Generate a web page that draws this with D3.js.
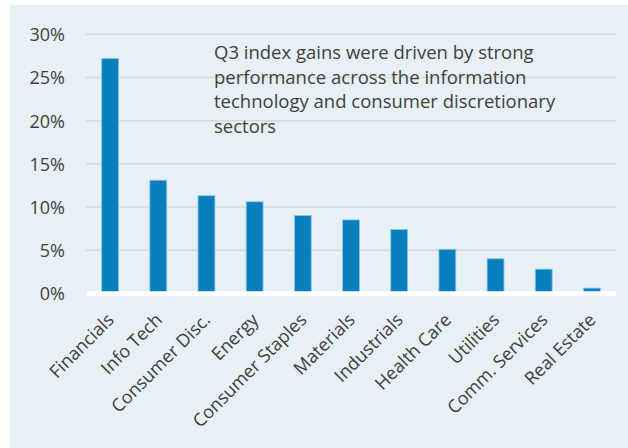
<!DOCTYPE html>
<html lang="en">
<head>
    <meta charset="UTF-8">
    <title>Q3 sector returns</title>
    <script src="https://d3js.org/d3.v7.min.js"></script>
    <style>
        body {
            margin: 0;
            background: #ffffff;
            font-family: "Open Sans", sans-serif;
        }
        svg {
            display: block;
        }
    </style>
</head>
<body>
    <svg id="chart" width="628" height="448"></svg>

    <script>
        // Data
        const sectors = ["Financials", "Info Tech", "Consumer Disc.", "Energy", "Consumer Staples",
            "Materials", "Industrials", "Health Care", "Utilities", "Comm. Services", "Real Estate"];
        const gains = [27.2, 13.1, 11.3, 10.6, 9.0, 8.5, 7.4, 5.1, 4.0, 2.8, 0.6];
        const yTicks = [0, 5, 10, 15, 20, 25, 30];
        const note = ["Q3 index gains were driven by strong",
            "performance across the information",
            "technology and consumer discretionary",
            "sectors"];

        const svg = d3.select("#chart");

        // panel background
        svg.append("rect")
            .attr("x", 10).attr("y", 5)
            .attr("width", 618).attr("height", 443)
            .attr("fill", "#e7f0f4");

        const plot = {left: 86, right: 616, top: 34.3, bottom: 293.3};

        const x = d3.scaleBand()
            .domain(sectors)
            .range([plot.left, plot.right])
            .paddingInner(0.65)
            .paddingOuter(0.325);

        const y = d3.scaleLinear()
            .domain([0, 30])
            .range([plot.bottom, plot.top]);

        // gridlines
        svg.append("g")
            .selectAll("line")
            .data(yTicks.filter(d => d > 0))
            .join("line")
            .attr("x1", plot.left).attr("x2", plot.right)
            .attr("y1", d => y(d)).attr("y2", d => y(d))
            .attr("stroke", "#d7d9da")
            .attr("stroke-width", 1.5);

        // y axis labels
        const yAxis = svg.append("g")
            .attr("transform", "translate(65,0)")
            .call(d3.axisLeft(y).tickValues(yTicks).tickFormat(d => d + "%").tickSize(0).tickPadding(0));
        yAxis.select(".domain").remove();
        yAxis.selectAll("text")
            .attr("font-family", "'Open Sans', sans-serif")
            .attr("font-size", 18)
            .attr("fill", "#404040")
            .attr("dy", "0.36em");

        // bars
        svg.append("g")
            .selectAll("rect")
            .data(sectors)
            .join("rect")
            .attr("x", d => x(d))
            .attr("y", (d, i) => y(gains[i]))
            .attr("width", x.bandwidth())
            .attr("height", (d, i) => y(0) - y(gains[i]))
            .attr("fill", "#0a7fbe")
            .attr("stroke", "#8cc6e6")
            .attr("stroke-width", 0.8);

        // white baseline
        svg.append("line")
            .attr("x1", plot.left).attr("x2", plot.right)
            .attr("y1", y(0) + 0.5).attr("y2", y(0) + 0.5)
            .attr("stroke", "#ffffff")
            .attr("stroke-width", 5);

        // x axis labels, rotated
        svg.append("g")
            .selectAll("text")
            .data(sectors)
            .join("text")
            .attr("transform", d => `translate(${x(d) + x.bandwidth() / 2 + 5},${321}) rotate(-45)`)
            .attr("text-anchor", "end")
            .attr("font-size", 18)
            .attr("fill", "#404040")
            .text(d => d);

        // annotation
        svg.append("text")
            .attr("x", 214)
            .attr("y", 59)
            .attr("font-size", 18.5)
            .attr("fill", "#404040")
            .selectAll("tspan")
            .data(note)
            .join("tspan")
            .attr("x", 214)
            .attr("dy", (d, i) => i === 0 ? 0 : 24.6)
            .text(d => d);
    </script>
</body>
</html>
